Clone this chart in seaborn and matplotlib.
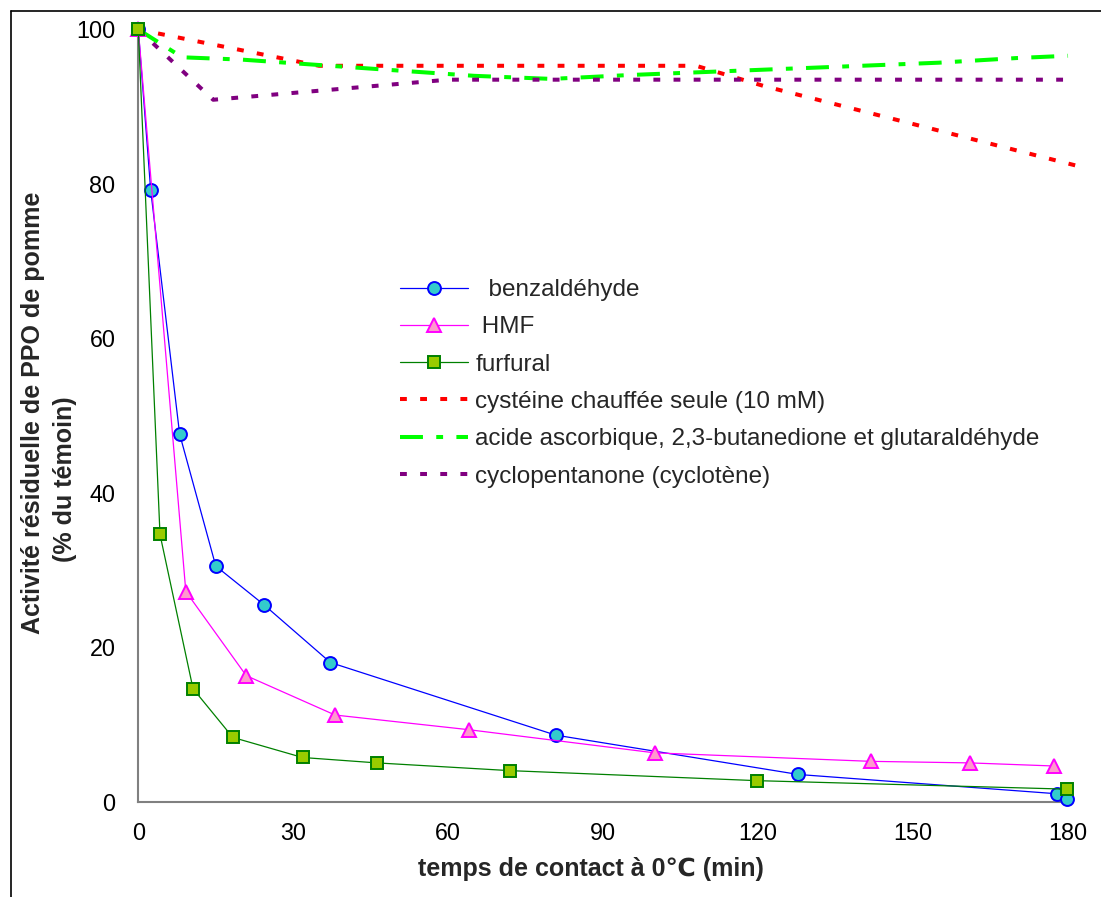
import matplotlib
matplotlib.use("Agg")
import matplotlib.pyplot as plt
import seaborn as sns
from matplotlib.lines import Line2D

# ---------------- data ----------------
benz_t = [0, 2.4, 8.0, 15.0, 24.3, 37.2, 80.8, 127.8, 177.9, 179.9]
benz_v = [100, 79.2, 47.6, 30.5, 25.5, 18.0, 8.6, 3.5, 1.0, 0.3]

hmf_t = [0, 9.2, 20.9, 38.1, 64.0, 100.0, 141.9, 161.0, 177.2]
hmf_v = [100, 27.2, 16.3, 11.2, 9.3, 6.3, 5.2, 5.0, 4.6]

furf_t = [0, 4.2, 10.6, 18.3, 31.8, 46.2, 71.9, 119.8, 179.8]
furf_v = [100, 34.6, 14.6, 8.3, 5.7, 5.0, 4.0, 2.7, 1.6]

cyst_t = [0, 35, 108, 121, 182]
cyst_v = [100, 95.3, 95.3, 92.7, 82.3]

ascorb_t = [0, 8.5, 20, 35, 50, 65, 80, 95, 110, 125, 140, 155, 170, 180]
ascorb_v = [100, 96.4, 96.1, 95.4, 94.7, 94.0, 93.6, 94.1, 94.5, 94.9, 95.3, 95.7, 96.3, 96.6]

cyclo_t = [0, 14.5, 60, 180]
cyclo_v = [100, 90.9, 93.5, 93.5]

labels = ["  benzaldéhyde", " HMF", "furfural",
          "cystéine chauffée seule (10 mM)",
          "acide ascorbique, 2,3-butanedione et glutaraldéhyde",
          "cyclopentanone (cyclotène)"]
x_ticks = [0, 30, 60, 90, 120, 150, 180]
y_ticks = [0, 20, 40, 60, 80, 100]
x_label = "temps de contact à 0℃ (min)"
y_label1 = "Activité résiduelle de PPO de pomme"
y_label2 = "(% du témoin)"

# ---------------- styling ----------------
sns.set_theme(style="white")
plt.rcParams['font.family'] = ['Liberation Sans', 'DejaVu Sans']

W, H = 1101, 897
fig = plt.figure(figsize=(W / 100, H / 100), dpi=100)
fig.patch.set_facecolor("white")
ax = fig.add_axes([138.3 / W, 1 - 801.5 / H, (1068 - 138.3) / W, (801.5 - 29.5) / H])
ax.set_facecolor("white")

common = dict(ax=ax, estimator=None, sort=False, legend=False, clip_on=False)

# dashed reference lines
sns.lineplot(x=cyst_t, y=cyst_v, color="#FF0000", lw=2.9,
             linestyle=(0, (1.7, 3.3)), label=labels[3], **common)
sns.lineplot(x=ascorb_t, y=ascorb_v, color="#00FF00", lw=2.9,
             linestyle=(0, (5.7, 3.3, 1.7, 3.3)), label=labels[4], **common)
sns.lineplot(x=cyclo_t, y=cyclo_v, color="#800080", lw=2.9,
             linestyle=(0, (1.7, 3.3)), label=labels[5], **common)

# marker series
sns.lineplot(x=benz_t, y=benz_v, color="#0000FF", lw=0.9, marker="o", ms=9.3,
             markerfacecolor="#33CCCC", markeredgecolor="#0000FF", markeredgewidth=1.4,
             label=labels[0], **common)
sns.lineplot(x=hmf_t, y=hmf_v, color="#FF00FF", lw=0.9, marker="^", ms=10,
             markerfacecolor="#FF99CC", markeredgecolor="#FF00FF", markeredgewidth=1.4,
             label=labels[1], **common)
sns.lineplot(x=furf_t, y=furf_v, color="#008000", lw=0.9, marker="s", ms=9,
             markerfacecolor="#99CC00", markeredgecolor="#008000", markeredgewidth=1.4,
             label=labels[2], **common)

ax.set_xlim(0, 180)
ax.set_ylim(0, 100)
ax.set_xticks(x_ticks)
ax.set_yticks(y_ticks)
ax.set_xlabel("")
ax.set_ylabel("")

for s in ["top", "right"]:
    ax.spines[s].set_visible(False)
for s in ["left", "bottom"]:
    ax.spines[s].set_color("#808080")
    ax.spines[s].set_linewidth(1.5)
    ax.spines[s].set_zorder(0.5)

ax.tick_params(axis="both", direction="out", length=4.5, width=1.2,
               color="#333333", labelsize=16.8, labelcolor="black")
ax.tick_params(axis="x", pad=10.5)
ax.tick_params(axis="y", pad=12)

# legend
h, l = ax.get_legend_handles_labels()
hm = dict(zip(l, h))
ax.legend([hm[k] for k in labels], labels, loc="upper left",
          bbox_to_anchor=(400 / W, 1 - 279 / H), bbox_transform=fig.transFigure,
          frameon=False, fontsize=17.5, handlelength=2.8, handletextpad=0.3,
          labelspacing=0.63, borderpad=0, borderaxespad=0)

# axis titles
fig.text(590.5 / W, 1 - 869 / H, x_label, ha="center", va="center",
         fontsize=18, fontweight="bold")
fig.text(33.5 / W, 1 - 413 / H, y_label1, ha="center", va="center",
         rotation=90, fontsize=18, fontweight="bold")
fig.text(65 / W, 1 - 479 / H, y_label2, ha="center", va="center",
         rotation=90, fontsize=18, fontweight="bold")

# outer frame (left and top edges visible)
fig.add_artist(Line2D([10.5 / W, 10.5 / W], [0, 1 - 11.5 / H],
                      transform=fig.transFigure, color="black", lw=1.2))
fig.add_artist(Line2D([10.5 / W, 1], [1 - 11.5 / H, 1 - 11.5 / H],
                      transform=fig.transFigure, color="black", lw=1.2))

fig.savefig("out.png", dpi=100, facecolor="white")
